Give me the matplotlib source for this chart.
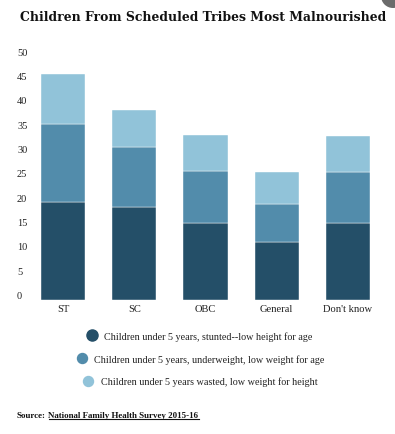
#!/usr/bin/python3

import matplotlib
matplotlib.use("Agg")
import matplotlib.pyplot as plt
from matplotlib.lines import Line2D
from matplotlib.patches import Circle
from matplotlib.transforms import ScaledTranslation

categories = ["ST", "SC", "OBC", "General", "Don't know"]
stunted = [20.0, 18.9, 15.7, 11.9, 15.7]
underweight = [16.0, 12.5, 10.7, 7.7, 10.5]
wasted = [10.3, 7.6, 7.3, 6.5, 7.3]
yticks = [0, 5, 10, 15, 20, 25, 30, 35, 40, 45, 50]

labels = [
    "Children under 5 years, stunted--low height for age",
    "Children under 5 years, underweight, low weight for age",
    "Children under 5 years wasted, low weight for height",
]
colors = ["#244f68", "#528cab", "#91c3d9"]
FONT = "Liberation Serif"
W, H = 395, 435


def main():
    plt.rcParams["font.family"] = FONT
    fig = plt.figure(figsize=(W / 100, H / 100), dpi=100)
    ax = fig.add_axes([27.4 / W, 1 - 300.5 / H, 356.2 / W, 243.5 / H])

    x = range(len(categories))
    bottom = [0] * len(categories)
    for vals, col in zip([stunted, underweight, wasted], colors):
        ax.bar(x, vals, 0.618, bottom=bottom, color=col, edgecolor="#ffffff",
               linewidth=0.3)
        bottom = [b + v for b, v in zip(bottom, vals)]

    ax.set_xlim(-0.5, 4.5)
    ax.set_ylim(0, 50)
    ax.set_xticks(list(x), categories)
    ax.set_yticks(yticks)
    ax.tick_params(length=0)
    ax.tick_params(axis="x", pad=3, labelsize=7.6, labelcolor="#222222")
    ax.tick_params(axis="y", pad=0, labelsize=7.5, labelcolor="#222222")
    for lab in ax.get_yticklabels():
        # labels sit just above their value in the reference
        lab.set_ha("left")
        lab.set_transform(lab.get_transform() + ScaledTranslation(
            (17 - 27.4) / 100, 4.8 / 100, fig.dpi_scale_trans))
    for s in ax.spines.values():
        s.set_visible(False)

    fig.text(203.5 / W, 1 - 17.5 / H, "Children From Scheduled Tribes Most Malnourished",
             ha="center", va="center", fontsize=8.9, fontweight="bold", color="#111111",
             family="DejaVu Serif")

    # one centred legend per row
    row_y = [336.7, 359.7, 382.5]
    row_x = [198, 199, 199]
    sizes = [8, 7.2, 7.2]
    for i in range(3):
        h = Line2D([], [], linestyle="none", marker="o", markersize=sizes[i],
                   color=colors[i])
        leg = fig.legend([h], [labels[i]], loc="center", frameon=False,
                         bbox_to_anchor=(row_x[i] / W, 1 - row_y[i] / H),
                         fontsize=7.3, handlelength=1.5, handletextpad=0.45, borderpad=0,
                         borderaxespad=0)
        for t in leg.get_texts():
            t.set_color("#222222")

    src = fig.text(17 / W, 1 - 416 / H, "Source:", ha="left", va="center",
                   fontsize=6.4, fontweight="bold", color="#111111")
    fig.canvas.draw()
    box = src.get_window_extent()
    link = fig.text((box.x1 + 2.5) / W, 1 - 416 / H, "National Family Health Survey 2015-16",
                    ha="left", va="center", fontsize=6.4, fontweight="bold", color="#111111")
    b2 = link.get_window_extent()
    fig.add_artist(Line2D([b2.x0 / W, b2.x1 / W], [1 - 420.3 / H] * 2, color="#111111",
                          linewidth=0.8))

    # grey button cut off in the screenshot corner
    fig.add_artist(Circle((393, H + 3), 12, transform=None, color="#6b6b6b", linewidth=0))

    fig.savefig("out.png", dpi=100)


if __name__ == '__main__':
    main()
